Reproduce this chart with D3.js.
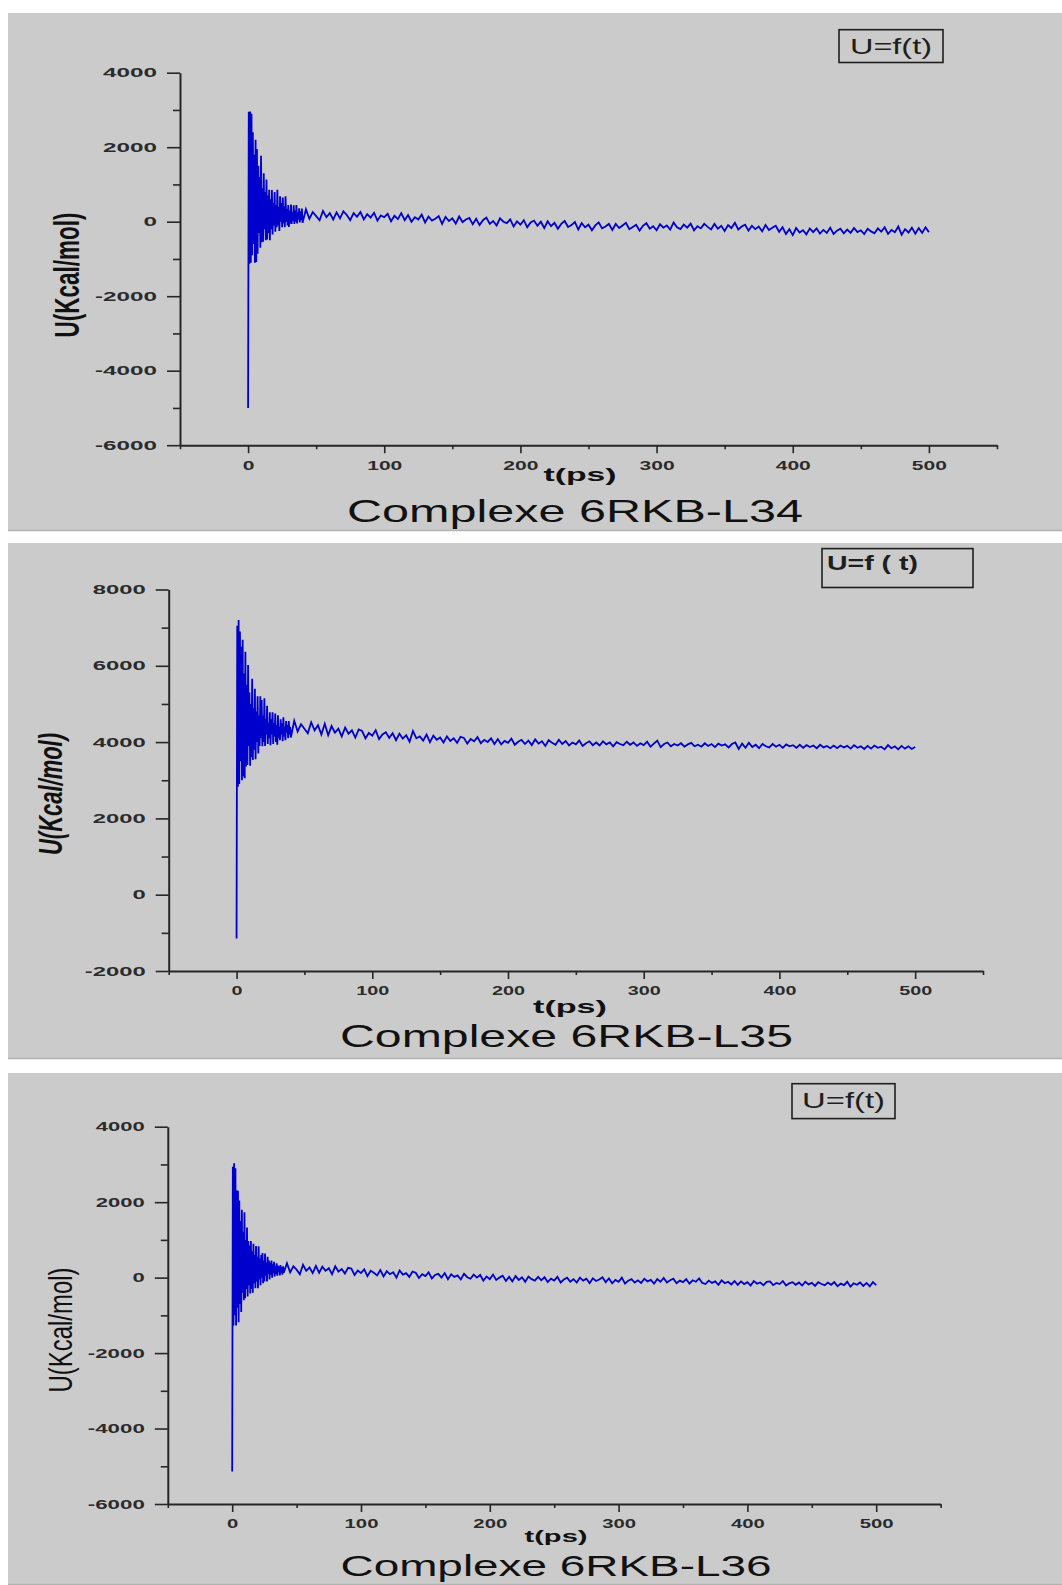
<!DOCTYPE html>
<html>
<head>
<meta charset="utf-8">
<script src="https://cdn.jsdelivr.net/npm/d3@7"></script>
<style>
  body { margin: 0; background: #ffffff; }
  svg { display: block; }
  text { font-family: "Liberation Sans", Arial, Helvetica, sans-serif; }
</style>
</head>
<body>
<svg id="fig" width="1062" height="1585"></svg>
<script>
// ---- Sampling grid: dense start (0.5 ps), coarser tail (2.5 ps) ----
const earlyStep = 0.5;      // ps, samples from t = 0 to 40
const lateStart = 42.5;     // ps
const lateStep = 2.5;       // ps, samples from 42.5 to 500

// ---- Potential energy U (kcal/mol) versus time ----
const uL34Early = [
  -5000, 2950, -1130, 2960, -1100, 2900, -900, 2400, -600, 1800,
  -1100, 2200, -1080, 1950, -860, 1500, -300, 1200, -700, 1770,
  -550, 900, -540, 1300, -200, 800, -500, 1130, -480, 700,
  -300, 860, -500, 600, -200, 850, -340, 500, -100, 800,
  -270, 450, -150, 860, -100, 400, -250, 680, 0, 500,
  -150, 650, -50, 420, -150, 680, 0, 350, -100, 450,
  -140, 300, -50, 460, -60, 250, 20, 440, -60, 300,
  0, 450, -50, 250, 60, 360, -20, 280, 40, 350,
  -30
];
const uL34Late = [
  330, 80, 260, 150, 40, 290, 120, 230, 60, 250,
  90, 280, 180, 40, 230, 130, 260, 60, 200, 110,
  240, 30, 170, 120, 210, 10, 160, 70, 230, 40,
  180, 0, 120, 60, 190, -20, 140, 30, 80, 150,
  -60, 130, 20, 90, -50, 140, -10, 60, 100, -70,
  80, -90, 40, 110, -60, 20, -100, 90, 0, -40,
  60, -130, 10, -80, 40, -150, -20, 30, -110, 0,
  -170, 10, -120, -30, -190, -60, 20, -140, -90, -10,
  -210, -40, -150, -80, -230, -100, -20, -180, -130, -60,
  -220, -60, -170, -100, -30, -200, -140, -80, -240, -110,
  -40, -190, -120, -230, -70, -160, -100, -210, -20, -150,
  -200, -80, -160, -50, -230, -120, -180, -60, -140, -210,
  -60, -190, -110, -250, -90, -170, -30, -210, -130, -80,
  -240, -110, -200, -130, -260, -90, -220, -160, -110, -270,
  -150, -330, -200, -360, -170, -290, -230, -340, -180, -280,
  -180, -320, -220, -300, -160, -330, -240, -190, -310, -210,
  -300, -170, -280, -230, -330, -190, -260, -310, -180, -270,
  -150, -330, -220, -280, -130, -350, -200, -290, -160, -320,
  -170, -300, -150, -280
];

const uL35Early = [
  -1150, 7050, 2830, 7200, 2900, 6900, 3500, 6500, 3000, 6680,
  3100, 5800, 3050, 6370, 3360, 5500, 3400, 6020, 3900, 5300,
  3380, 5000, 3600, 5660, 3530, 4900, 3800, 5400, 3550, 4800,
  4000, 5200, 3700, 4700, 3900, 5200, 4100, 5100, 3890, 4700,
  4000, 5150, 3900, 4600, 4200, 4950, 3950, 4500, 4100, 4780,
  3920, 4600, 4200, 4780, 3950, 4500, 4150, 4750, 4000, 4450,
  3930, 4700, 4100, 4400, 4050, 4600, 4200, 4500, 4020, 4650,
  4150, 4400, 4050, 4550, 4250, 4450, 4100, 4550, 4200, 4400,
  4120
];
const uL35Late = [
  4560, 4280, 4470, 4350, 4230, 4520, 4310, 4440, 4200, 4480,
  4180, 4420, 4250, 4350, 4150, 4380, 4220, 4310, 4120, 4330,
  4290, 4100, 4240, 4170, 4310, 4080, 4200, 4260, 4110, 4230,
  4050, 4220, 4090, 4180, 4010, 4290, 4100, 4150, 4040, 4200,
  4000, 4170, 4060, 4120, 3990, 4150, 4030, 4100, 3980, 4140,
  4110, 3960, 4080, 4020, 4130, 3970, 4060, 4000, 4100, 3950,
  4080, 3940, 4030, 3980, 4090, 3930, 4010, 4060, 3950, 4040,
  3920, 4070, 3960, 4020, 3900, 4050, 3980, 3930, 4060, 3950,
  4030, 3910, 3990, 3940, 4040, 3900, 3970, 4020, 3920, 3990,
  3910, 4020, 3940, 3990, 3890, 4000, 3950, 3920, 4010, 3930,
  3990, 3900, 3970, 3920, 4010, 3880, 3960, 4040, 3870, 3950,
  3990, 3890, 3950, 3910, 3970, 3880, 3940, 3980, 3890, 3930,
  3880, 3970, 3900, 3950, 3870, 3960, 3910, 3940, 3860, 3950,
  3990, 3820, 3960, 3850, 3980, 3870, 3930, 3840, 3950, 3890,
  3860, 3950, 3880, 3930, 3850, 3940, 3890, 3920, 3850, 3930,
  3850, 3920, 3870, 3910, 3840, 3930, 3860, 3900, 3840, 3910,
  3840, 3910, 3860, 3900, 3830, 3920, 3850, 3890, 3820, 3900,
  3830, 3910, 3850, 3880, 3810, 3920, 3840, 3890, 3810, 3900,
  3830, 3890, 3820, 3870
];

const uL36Early = [
  -5140, 2940, -1270, 3030, -1000, 2900, -1270, 2316, -800, 2300,
  -1180, 2046, -700, 1500, -910, 1800, -400, 1200, -600, 1733,
  -550, 1000, -300, 1330, -500, 973, -200, 850, -420, 970,
  -300, 700, -400, 900, -150, 600, -280, 837, -100, 550,
  -280, 830, -50, 500, -200, 600, 0, 650, -150, 450,
  -100, 640, 50, 400, -100, 550, 100, 450, -50, 400,
  80, 450, 0, 350, 120, 420, 30, 300, 100, 380,
  50, 320, 150, 300, 60, 330, 120, 280, 80, 300,
  130
];
const uL36Late = [
  380, 140, 300, 210, 90, 340, 180, 270, 120, 310,
  130, 290, 180, 250, 90, 300, 160, 230, 110, 260,
  240, 70, 190, 120, 220, 40, 180, 130, 60, 200,
  30, 170, 90, 140, 0, 190, 80, 120, 20, 160,
  130, -10, 90, 40, 140, -20, 70, 100, 0, 120,
  -40, 90, 20, 60, -50, 100, 10, -30, 80, 0,
  70, -80, 30, -40, 80, -60, 0, 50, -90, 20,
  -100, 40, -60, 10, -110, 30, -40, -80, 20, -70,
  10, -120, -30, -80, 20, -130, -50, 0, -110, -40,
  -130, 0, -80, -30, -150, -20, -90, -50, 10, -120,
  -20, -150, -60, -110, 0, -160, -80, -40, -130, -70,
  -140, -30, -100, -60, -160, -40, -110, -10, -130, -70,
  -30, -150, -80, -120, -40, -160, -70, -110, -20, -140,
  -170, -80, -140, -100, -190, -70, -150, -110, -180, -90,
  -190, -100, -170, -120, -210, -90, -160, -130, -200, -110,
  -100, -200, -140, -170, -90, -210, -150, -120, -190, -130,
  -210, -110, -180, -140, -220, -120, -170, -200, -130, -190,
  -120, -230, -160, -200, -110, -240, -150, -190, -130, -220,
  -140, -230, -120, -200
];

// ---- Axis ticks and texts ----
const xDomain = [-50, 550];
const xMajorTicks = [0, 100, 200, 300, 400, 500];
const xMinorTicks = [-50, 50, 150, 250, 350, 450, 550];
const yMajorTicksA = [-6000, -4000, -2000, 0, 2000, 4000];
const yMinorTicksA = [-5000, -3000, -1000, 1000, 3000];
const yMajorTicksB = [-2000, 0, 2000, 4000, 6000, 8000];
const yMinorTicksB = [-1000, 1000, 3000, 5000, 7000];
const titles = ["Complexe 6RKB-L34", "Complexe 6RKB-L35", "Complexe 6RKB-L36"];
const legendLabels = ["U=f(t)", "U=f ( t)", "U=f(t)"];
const yAxisTitle = "U(Kcal/mol)";
const xAxisTitle = "t(ps)";

// ---- Panel layouts ----
const panels = [
  {
    early: uL34Early, late: uL34Late, title: titles[0], legend: legendLabels[0],
    bg: [13, 531], xr: [180, 997], yr: [445.2, 72.7], yDomain: [-6000, 4000],
    yMajor: yMajorTicksA, yMinor: yMinorTicksA,
    yCharW: 13.5, xCharW: 11.7, xLabOff: 25,
    box: [839, 29.7, 104, 32.8],
    legendText: { x: 891, y: 54, size: 22, weight: "normal", anchor: "middle", len: 82 },
    yTitle: { x: 66, y: 275, size: 22, weight: "bold", style: "normal", len: 125, sx: 1.6 },
    xTitle: { x: 580, y: 481, size: 19, len: 73 },
    mainTitle: { x: 575, y: 522, size: 32, len: 456 }
  },
  {
    early: uL35Early, late: uL35Late, title: titles[1], legend: legendLabels[1],
    bg: [543, 1059], xr: [168.7, 983], yr: [971, 589.5], yDomain: [-2000, 8000],
    yMajor: yMajorTicksB, yMinor: yMinorTicksB,
    yCharW: 13.25, xCharW: 11, xLabOff: 24,
    box: [822, 548.6, 151, 38.9],
    legendText: { x: 827, y: 570, size: 20, weight: "bold", anchor: "start", len: 91 },
    yTitle: { x: 51, y: 794, size: 22, weight: "bold", style: "italic", len: 122, sx: 1.5 },
    xTitle: { x: 570, y: 1013, size: 19, len: 74 },
    mainTitle: { x: 566.5, y: 1047, size: 32, len: 453 }
  },
  {
    early: uL36Early, late: uL36Late, title: titles[2], legend: legendLabels[2],
    bg: [1073, 1585], xr: [167.8, 940.6], yr: [1504, 1126.7], yDomain: [-6000, 4000],
    yMajor: yMajorTicksA, yMinor: yMinorTicksA,
    yCharW: 12.25, xCharW: 11.3, xLabOff: 24,
    box: [792, 1083.7, 103, 34.9],
    legendText: { x: 843.5, y: 1108.4, size: 22, weight: "normal", anchor: "middle", len: 83 },
    yTitle: { x: 61, y: 1330, size: 22, weight: "normal", style: "normal", len: 125, sx: 1.5 },
    xTitle: { x: 556, y: 1542, size: 17, len: 63 },
    mainTitle: { x: 556, y: 1576, size: 30, len: 431 }
  }
];

const svg = d3.select("#fig");
const axisColor = "#262626";
const lineColor = "#0000cc";

function labelWidth(s, charW) {
  // digits take charW each, the hyphen-minus is narrower
  let w = 0;
  for (const c of s) w += (c === "-") ? 8 : charW;
  return w;
}

panels.forEach(p => {
  const g = svg.append("g");

  // panel background with a soft lower edge
  g.append("rect")
    .attr("x", 8).attr("y", p.bg[0])
    .attr("width", 1062 - 8).attr("height", p.bg[1] - p.bg[0])
    .attr("fill", "#cbcbcb");
  g.append("line")
    .attr("x1", 8).attr("x2", 1062)
    .attr("y1", p.bg[1] - 0.5).attr("y2", p.bg[1] - 0.5)
    .attr("stroke", "#b2b2b2").attr("stroke-width", 1.5);

  const x = d3.scaleLinear().domain(xDomain).range(p.xr);
  const y = d3.scaleLinear().domain(p.yDomain).range(p.yr);

  // series points on the sampling grid
  const pts = p.early.map((v, i) => ({ t: i * earlyStep, u: v }))
    .concat(p.late.map((v, i) => ({ t: lateStart + i * lateStep, u: v })));

  g.append("path")
    .datum(pts)
    .attr("fill", "none")
    .attr("stroke", lineColor)
    .attr("stroke-width", 1.8)
    .attr("stroke-linejoin", "miter")
    .attr("d", d3.line().x(d => x(d.t)).y(d => y(d.u)));

  // y axis: minor then major ticks
  const yMinorAxis = g.append("g")
    .attr("transform", `translate(${p.xr[0]},0)`)
    .call(d3.axisLeft(y).tickValues(p.yMinor).tickSize(7).tickSizeOuter(0).tickFormat(""));
  yMinorAxis.select(".domain").remove();

  const yAxis = g.append("g")
    .attr("transform", `translate(${p.xr[0]},0)`)
    .call(d3.axisLeft(y).tickValues(p.yMajor).tickSize(13).tickSizeOuter(0).tickPadding(10).tickFormat(d => String(d)));
  yAxis.selectAll("text")
    .attr("font-size", 12.5).attr("font-weight", "bold").attr("fill", "#2b2b2b")
    .attr("font-family", "Liberation Sans, Arial, sans-serif")
    .attr("lengthAdjust", "spacingAndGlyphs")
    .each(function(d) {
      d3.select(this).attr("textLength", labelWidth(String(d), p.yCharW));
    });

  // x axis: minor then major ticks
  const xMinorAxis = g.append("g")
    .attr("transform", `translate(0,${p.yr[0]})`)
    .call(d3.axisBottom(x).tickValues(xMinorTicks).tickSize(4).tickSizeOuter(0).tickFormat(""));
  xMinorAxis.select(".domain").remove();

  const xAxis = g.append("g")
    .attr("transform", `translate(0,${p.yr[0]})`)
    .call(d3.axisBottom(x).tickValues(xMajorTicks).tickSize(8).tickSizeOuter(0).tickFormat(d => String(d)));
  xAxis.selectAll("text")
    .attr("y", p.xLabOff).attr("dy", 0)
    .attr("font-size", 12.5).attr("font-weight", "bold").attr("fill", "#2b2b2b")
    .attr("font-family", "Liberation Sans, Arial, sans-serif")
    .attr("lengthAdjust", "spacingAndGlyphs")
    .each(function(d) {
      d3.select(this).attr("textLength", labelWidth(String(d), p.xCharW));
    });

  [yAxis, xAxis, yMinorAxis, xMinorAxis].forEach(a => {
    a.selectAll(".tick line").attr("stroke", axisColor).attr("stroke-width", 1.6);
  });
  [yAxis, xAxis].forEach(a => {
    a.select(".domain").attr("stroke", axisColor).attr("stroke-width", 2);
  });

  // legend box
  g.append("rect")
    .attr("x", p.box[0]).attr("y", p.box[1])
    .attr("width", p.box[2]).attr("height", p.box[3])
    .attr("fill", "none").attr("stroke", "#1e1e1e").attr("stroke-width", 1.6);
  g.append("text")
    .attr("x", p.legendText.x).attr("y", p.legendText.y)
    .attr("text-anchor", p.legendText.anchor)
    .attr("font-size", p.legendText.size).attr("font-weight", p.legendText.weight)
    .attr("fill", "#1e1e1e")
    .attr("textLength", p.legendText.len).attr("lengthAdjust", "spacingAndGlyphs")
    .text(p.legend);

  // y axis title (rotated, widened across the axis)
  g.append("text")
    .attr("transform", `translate(${p.yTitle.x},${p.yTitle.y}) scale(${p.yTitle.sx},1) rotate(-90)`)
    .attr("text-anchor", "middle").attr("dominant-baseline", "central")
    .attr("font-size", p.yTitle.size).attr("font-weight", p.yTitle.weight)
    .attr("font-style", p.yTitle.style).attr("fill", "#111")
    .attr("textLength", p.yTitle.len).attr("lengthAdjust", "spacingAndGlyphs")
    .text(yAxisTitle);

  // x axis title
  g.append("text")
    .attr("x", p.xTitle.x).attr("y", p.xTitle.y)
    .attr("text-anchor", "middle")
    .attr("font-size", p.xTitle.size).attr("font-weight", "bold").attr("fill", "#111")
    .attr("textLength", p.xTitle.len).attr("lengthAdjust", "spacingAndGlyphs")
    .text(xAxisTitle);

  // panel caption
  g.append("text")
    .attr("x", p.mainTitle.x).attr("y", p.mainTitle.y)
    .attr("text-anchor", "middle")
    .attr("font-size", p.mainTitle.size).attr("fill", "#111")
    .attr("textLength", p.mainTitle.len).attr("lengthAdjust", "spacingAndGlyphs")
    .text(p.title);
});
</script>
</body>
</html>
